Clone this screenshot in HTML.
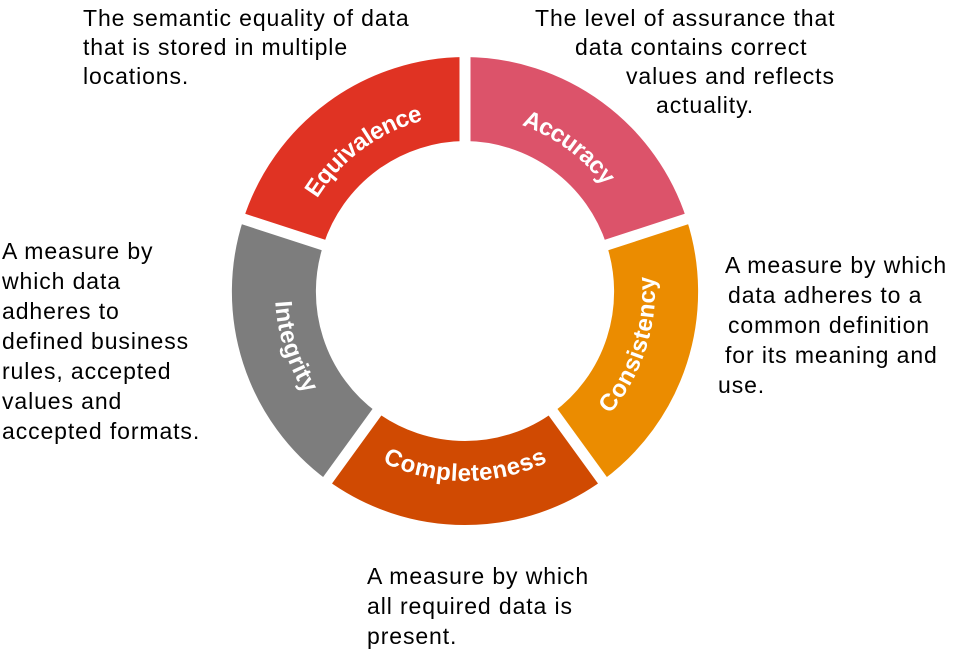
<!DOCTYPE html>
<html><head><meta charset="utf-8"><style>
html,body{margin:0;padding:0;background:#fff;}
body{width:953px;height:651px;position:relative;overflow:hidden;font-family:"Liberation Sans",Arial,sans-serif;}
.t{position:absolute;font-size:23px;letter-spacing:0.9px;line-height:30px;color:#000;white-space:nowrap;}
svg{position:absolute;left:0;top:0;}
</style></head><body>
<svg width="953" height="651" viewBox="0 0 953 651">
<g fill="none" stroke-width="84">
<path d="M283.4,232.0 A192 192 0 0 1 465,99" stroke="#e03323"/>
<path d="M465,99 A192 192 0 0 1 646.6,232.0" stroke="#dc536a"/>
<path d="M646.6,232.0 A192 192 0 0 1 577.9,446.3" stroke="#eb8c00"/>
<path d="M577.9,446.3 A192 192 0 0 1 352.1,446.3" stroke="#d04a02"/>
<path d="M352.1,446.3 A192 192 0 0 1 283.4,232.0" stroke="#7d7d7d"/>
</g>
<g stroke="#fff" stroke-width="11">
<line x1="465" y1="291" x2="465" y2="40"/>
<line x1="465" y1="291" x2="703.7" y2="213.4"/>
<line x1="465" y1="291" x2="612.5" y2="494.1"/>
<line x1="465" y1="291" x2="317.5" y2="494.1"/>
<line x1="465" y1="291" x2="226.3" y2="213.4"/>
</g>
<defs>
<path id="p1" d="M291.9,234.8 A184 184 0 0 1 465,107"/>
<path id="p2" d="M465,107 A184 184 0 0 1 638.1,234.8"/>
<path id="p3" d="M572,438.2 A182 182 0 0 0 638.1,234.8"/>
<path id="p4" d="M358,438.2 A182 182 0 0 0 572,438.2"/>
<path id="p5" d="M291.9,234.8 A182 182 0 0 0 358,438.2"/>
</defs>
<g fill="#fff" font-family="Liberation Sans,Arial,sans-serif" font-weight="bold" font-size="24" dominant-baseline="central">
<text><textPath href="#p1" startOffset="50%" text-anchor="middle">Equivalence</textPath></text>
<text><textPath href="#p2" startOffset="50%" text-anchor="middle">Accuracy</textPath></text>
<text><textPath href="#p3" startOffset="50%" text-anchor="middle">Consistency</textPath></text>
<text><textPath href="#p4" startOffset="50%" text-anchor="middle">Completeness</textPath></text>
<text><textPath href="#p5" startOffset="50%" text-anchor="middle">Integrity</textPath></text>
</g>
</svg>
<div class="t" style="left:83px;top:3px">The semantic equality of data</div>
<div class="t" style="left:83px;top:32px">that is stored in multiple</div>
<div class="t" style="left:83px;top:61px">locations.</div>
<div class="t" style="left:535px;top:3px">The level of assurance that</div>
<div class="t" style="left:575px;top:32px">data contains correct</div>
<div class="t" style="left:626px;top:61px">values and reflects</div>
<div class="t" style="left:656px;top:90px">actuality.</div>
<div class="t" style="left:725px;top:250px">A measure by which</div>
<div class="t" style="left:728px;top:280px">data adheres to a</div>
<div class="t" style="left:728px;top:310px">common definition</div>
<div class="t" style="left:725px;top:340px">for its meaning and</div>
<div class="t" style="left:718px;top:370px">use.</div>
<div class="t" style="left:2px;top:236px">A measure by</div>
<div class="t" style="left:2px;top:266px">which data</div>
<div class="t" style="left:2px;top:296px">adheres to</div>
<div class="t" style="left:2px;top:326px">defined business</div>
<div class="t" style="left:2px;top:356px">rules, accepted</div>
<div class="t" style="left:2px;top:386px">values and</div>
<div class="t" style="left:2px;top:416px">accepted formats.</div>
<div class="t" style="left:367px;top:561px">A measure by which</div>
<div class="t" style="left:367px;top:591px">all required data is</div>
<div class="t" style="left:367px;top:621px">present.</div>
</body></html>
